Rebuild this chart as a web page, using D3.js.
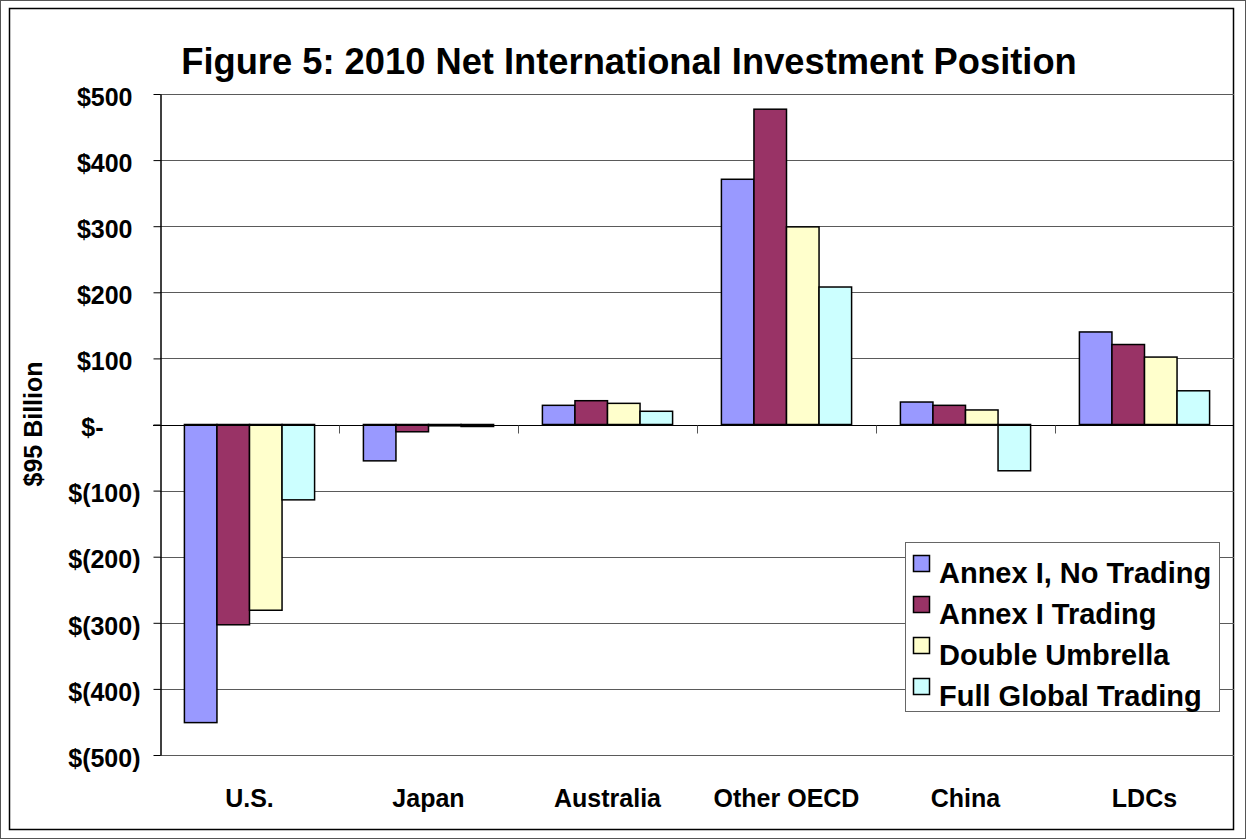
<!DOCTYPE html>
<html>
<head>
  <meta charset="utf-8">
  <script src="https://cdn.jsdelivr.net/npm/d3@7"></script>
  <style>
body { margin: 0; background: #fff; }
text { font-family: "Liberation Sans", Arial, sans-serif; font-weight: bold; fill: #000; }
.grid line { stroke: #5a5a5a; stroke-width: 1; }
.bar { stroke: #000; stroke-width: 1.5; }
  </style>
</head>
<body>
  <svg width="1247" height="840"></svg>
  <script>

// regions along the x axis
const categories = ["U.S.", "Japan", "Australia", "Other OECD", "China", "LDCs"];

const series = ["Annex I, No Trading", "Annex I Trading", "Double Umbrella", "Full Global Trading"];
const colors = ["#9999ff", "#993366", "#ffffcc", "#ccffff"];

// $ billion
const noTrading     = [-451, -55, 29, 371, 34, 140];
const annexTrading  = [-303, -11, 36, 477, 29, 121];
const doubleUmb     = [-281, -2, 32, 299, 22, 102];
const fullGlobal    = [-114, -3, 20, 208, -70, 51];

const yTicks = [500, 400, 300, 200, 100, 0, -100, -200, -300, -400, -500];

const values = [noTrading, annexTrading, doubleUmb, fullGlobal];

const svg = d3.select("svg");

// frames
svg.append("rect")
   .attr("x", 0.5).attr("y", 0.5).attr("width", 1245).attr("height", 838)
   .attr("fill", "none").attr("stroke", "#555").attr("stroke-width", 1);
svg.append("rect")
   .attr("x", 9.5).attr("y", 8.5).attr("width", 1224).attr("height", 821)
   .attr("fill", "none").attr("stroke", "#000").attr("stroke-width", 1.5);

const plotL = 160, plotR = 1234, plotT = 94, plotB = 755;

const x = d3.scaleBand()
            .domain(categories)
            .range([plotL, plotR])
            .padding(0);

const xs = d3.scaleBand()
             .domain(series)
             .range([0, x.bandwidth()])
             .paddingInner(0)
             .paddingOuter(0.75);

const y = d3.scaleLinear()
            .domain([-500, 500])
            .range([plotB, plotT]);

// gridlines
svg.append("g")
   .attr("class", "grid")
   .selectAll("line")
   .data(yTicks.filter(d => d != 0))
   .enter().append("line")
   .attr("x1", plotL).attr("x2", plotR)
   .attr("y1", d => Math.round(y(d)) + 0.5)
   .attr("y2", d => Math.round(y(d)) + 0.5);

// bars
const rows = [];
series.forEach((s, i) => {
  categories.forEach((c, j) => rows.push({s: s, c: c, v: values[i][j], i: i}));
});

svg.append("g")
   .selectAll("rect")
   .data(rows)
   .enter().append("rect")
   .attr("class", "bar")
   .attr("x", d => x(d.c) + xs(d.s))
   .attr("width", xs.bandwidth())
   .attr("y", d => y(Math.max(0, d.v)))
   .attr("height", d => Math.abs(y(d.v) - y(0)))
   .attr("fill", d => colors[d.i]);

// zero line + category ticks
const zeroY = Math.round(y(0)) + 0.5;
svg.append("line")
   .attr("x1", plotL - 7).attr("x2", plotR)
   .attr("y1", zeroY).attr("y2", zeroY)
   .attr("stroke", "#000").attr("stroke-width", 1);

svg.append("g")
   .selectAll("line")
   .data(categories.slice(1))
   .enter().append("line")
   .attr("x1", d => Math.round(x(d)) + 0.5)
   .attr("x2", d => Math.round(x(d)) + 0.5)
   .attr("y1", zeroY).attr("y2", zeroY + 8)
   .attr("stroke", "#555");

// y axis
const fmt = d => d > 0 ? "$" + d : d < 0 ? "$(" + (-d) + ")" : "$-";
const yAxis = svg.append("g")
   .attr("transform", `translate(${plotL + 0.5},0)`)
   .call(d3.axisLeft(y).tickValues(yTicks).tickFormat(fmt).tickSize(7).tickSizeOuter(0));

yAxis.select(".domain").attr("stroke", "#000").attr("stroke-width", 1.5);
yAxis.selectAll(".tick line").attr("stroke", "#000");
yAxis.selectAll(".tick text")
     .attr("font-size", 25)
     .attr("font-family", null)
     .attr("x", d => d > 0 ? -28 : d < 0 ? -20 : -57)
     .attr("dy", "0.45em");

// x labels
svg.append("g")
   .selectAll("text")
   .data(categories)
   .enter().append("text")
   .attr("x", d => x(d) + x.bandwidth() / 2)
   .attr("y", 807)
   .attr("text-anchor", "middle")
   .attr("font-size", 25)
   .text(d => d);

// titles
svg.append("text")
   .attr("x", 629).attr("y", 74)
   .attr("text-anchor", "middle")
   .attr("font-size", 36.3)
   .text("Figure 5: 2010 Net International Investment Position");

svg.append("text")
   .attr("transform", "translate(42,424) rotate(-90)")
   .attr("text-anchor", "middle")
   .attr("font-size", 25)
   .text("$95 Billion");

// legend
const legend = svg.append("g").attr("transform", "translate(905,542)");
legend.append("rect")
      .attr("x", 0.5).attr("y", 0.5).attr("width", 314).attr("height", 169)
      .attr("fill", "#fff").attr("stroke", "#666");

const item = legend.selectAll(".item")
                   .data(series)
                   .enter().append("g")
                   .attr("transform", (d, i) => `translate(0,${i * 41})`);

item.append("rect")
    .attr("x", 8.5).attr("y", 13.5).attr("width", 16).attr("height", 16)
    .attr("fill", (d, i) => colors[i])
    .attr("stroke", "#000").attr("stroke-width", 1.5);

item.append("text")
    .attr("x", 34).attr("y", 41)
    .attr("font-size", 29)
    .text(d => d);

</script>
</body>
</html>
